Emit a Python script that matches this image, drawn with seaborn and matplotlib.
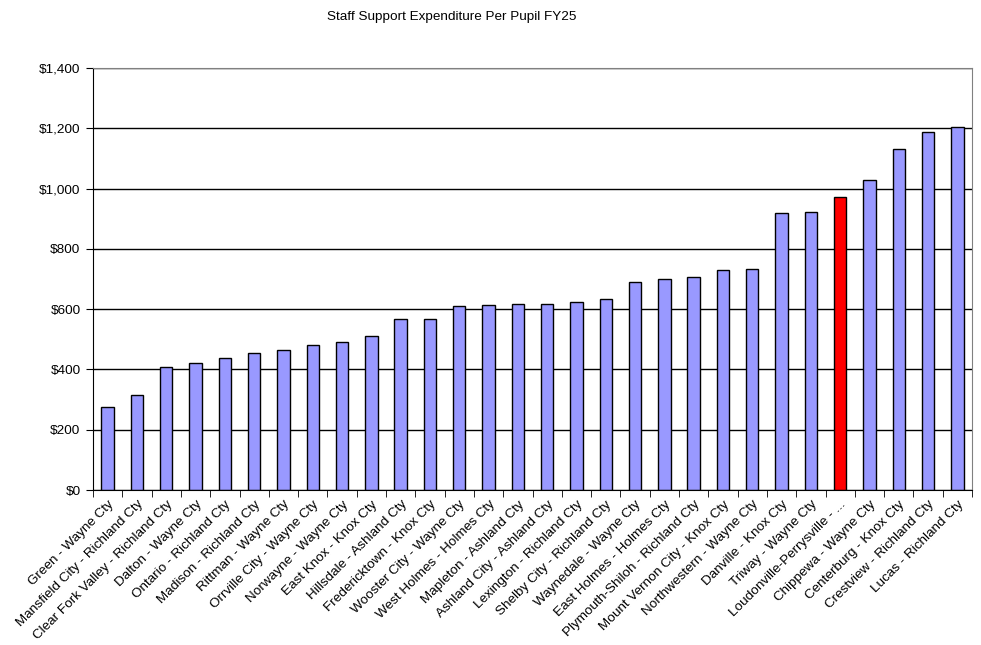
import numpy as np
import matplotlib
matplotlib.use('Agg')
import matplotlib.pyplot as plt
import seaborn as sns
from matplotlib.ticker import FuncFormatter, FixedLocator

# Datos
districts = [
    'Green - Wayne Cty', 'Mansfield City - Richland Cty', 'Clear Fork Valley - Richland Cty',
    'Dalton - Wayne Cty', 'Ontario - Richland Cty', 'Madison - Richland Cty',
    'Rittman - Wayne Cty', 'Orrville City - Wayne Cty', 'Norwayne - Wayne Cty',
    'East Knox - Knox Cty', 'Hillsdale - Ashland Cty', 'Fredericktown - Knox Cty',
    'Wooster City - Wayne Cty', 'West Holmes - Holmes Cty', 'Mapleton - Ashland Cty',
    'Ashland City - Ashland Cty', 'Lexington - Richland Cty', 'Shelby City - Richland Cty',
    'Waynedale - Wayne Cty', 'East Holmes - Holmes Cty', 'Plymouth-Shiloh - Richland Cty',
    'Mount Vernon City - Knox Cty', 'Northwestern - Wayne Cty', 'Danville - Knox Cty',
    'Triway - Wayne Cty', 'Loudonville-Perrysville - ...', 'Chippewa - Wayne Cty',
    'Centerburg - Knox Cty', 'Crestview - Richland Cty', 'Lucas - Richland Cty',
]
expenditure = [274, 314, 407, 420, 437, 453, 463, 480, 490, 510,
               566, 566, 609, 613, 616, 617, 623, 633, 689, 699,
               706, 729, 732, 918, 921, 971, 1028, 1130, 1187, 1203]
highlight = 'Loudonville-Perrysville - ...'

colors = ['#FF0000' if d == highlight else '#9999FF' for d in districts]

plt.rcParams['font.family'] = ['Liberation Sans', 'DejaVu Sans']
fsize = 9.7

fig = plt.figure(figsize=(9.81, 6.45), dpi=100)
ax = fig.add_axes([93 / 981, 1 - 490 / 645, (972 - 93) / 981, (490 - 68) / 645])

sns.barplot(x=districts, y=expenditure, hue=districts, palette=colors, legend=False,
            width=0.42, edgecolor='black', linewidth=1, saturation=1, ax=ax)

ax.set_ylim(0, 1400)
ax.set_xlim(-0.5, len(districts) - 0.5)
ax.set_yticks(np.arange(0, 1401, 200))
ax.yaxis.set_major_formatter(FuncFormatter(lambda v, p: '${:,.0f}'.format(v)))
ax.yaxis.grid(True, color='black', linewidth=1)
ax.set_axisbelow(True)

# ticks del eje x entre categorias
ax.xaxis.set_minor_locator(FixedLocator(np.arange(-0.5, len(districts), 1)))
ax.tick_params(axis='x', which='major', length=0, pad=6)
ax.tick_params(axis='x', which='minor', length=5, color='black')
ax.tick_params(axis='y', length=5, color='black', pad=4)
ax.set_xticks(range(len(districts)))
ax.set_xticklabels(districts, rotation=45, ha='right', rotation_mode='anchor', fontsize=fsize)
for lbl in ax.get_yticklabels():
    lbl.set_fontsize(fsize)

for s in ['top', 'right']:
    ax.spines[s].set_color('#808080')
for s in ['left', 'bottom']:
    ax.spines[s].set_color('black')
ax.set_xlabel('')
ax.set_ylabel('')

fig.text(452 / 981, 1 - 17 / 645, 'Staff Support Expenditure Per Pupil FY25',
         ha='center', va='center', fontsize=fsize)

fig.savefig('out.png', dpi=100)
